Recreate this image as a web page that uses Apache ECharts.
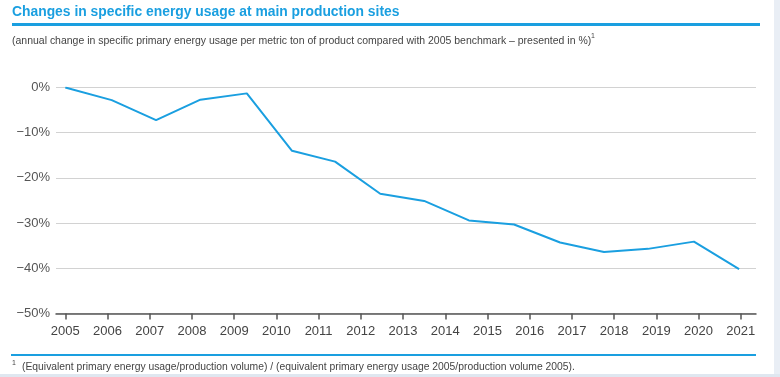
<!DOCTYPE html>
<html>
<head>
<meta charset="utf-8">
<script src="https://cdn.jsdelivr.net/npm/echarts@6/dist/echarts.min.js"></script>
<style>
  html, body { margin: 0; padding: 0; background: #fff; }
  #chart { width: 780px; height: 377px; }
</style>
</head>
<body>
<div id="chart"></div>
<script>
// year positions of the drawn points (they drift a little against the year ticks)
let pointYears = [2005.0, 2006.1, 2007.15, 2008.2, 2009.3, 2010.37, 2011.39, 2012.46,
  2013.5, 2014.56, 2015.63, 2016.72, 2017.76, 2018.8, 2019.89, 2020.96];
// change vs 2005 in %
let changeValues = [0, -2.8, -7.2, -2.7, -1.3, -14.0, -16.4, -23.5,
  -25.1, -29.4, -30.3, -34.3, -36.4, -35.7, -34.1, -40.2];
// x axis tick labels
let yearTicks = [2005, 2006, 2007, 2008, 2009, 2010, 2011, 2012, 2013,
  2014, 2015, 2016, 2017, 2018, 2019, 2020, 2021];

let blue = '#1a9fe0';
let font = '"Liberation Sans", Arial, sans-serif';

let chart = echarts.init(document.getElementById('chart'));

let seriesData = [];
for (let i = 0; i < pointYears.length; i++) {
  seriesData.push([pointYears[i], changeValues[i]]);
}

let option = {
  backgroundColor: '#fff',
  animation: false,
  grid: {
    left: 56,
    right: 24,
    top: 87.5,
    bottom: 63.5
  },
  xAxis: {
    type: 'value',
    min: 2004.78,
    max: 2021.36,
    axisLine: { show: true, onZero: false, lineStyle: { color: '#555', width: 1.5 } },
    axisTick: {
      show: true,
      customValues: yearTicks,
      length: 6,
      inside: false,
      lineStyle: { color: '#555', width: 1.5 }
    },
    axisLabel: {
      customValues: yearTicks,
      margin: 11,
      fontFamily: font,
      fontSize: 13,
      color: '#444',
      formatter: function (v) { return String(v); }
    },
    splitLine: { show: false }
  },
  yAxis: {
    type: 'value',
    min: -50,
    max: 0,
    interval: 10,
    axisLine: { show: false },
    axisTick: { show: false },
    axisLabel: {
      margin: 6,
      fontFamily: font,
      fontSize: 13,
      color: '#555',
      formatter: function (v) {
        return v === 0 ? '0%' : '\u2212' + Math.abs(v) + '%';
      }
    },
    splitLine: { show: true, lineStyle: { color: '#d2d2d2', width: 1.2 } }
  },
  series: [
    {
      type: 'line',
      data: seriesData,
      showSymbol: false,
      lineStyle: { color: blue, width: 2 },
      z: 5
    }
  ],
  graphic: [
    {
      type: 'text',
      x: 12,
      y: 5,
      scaleX: 0.99,
      style: {
        text: 'Changes in specific energy usage at main production sites',
        fontFamily: font,
        fontWeight: 'bold',
        fontSize: 14,
        fill: blue,
        verticalAlign: 'top'
      }
    },
    {
      type: 'rect',
      shape: { x: 12, y: 23, width: 748, height: 3 },
      style: { fill: blue }
    },
    {
      type: 'text',
      x: 12,
      y: 35,
      scaleX: 0.953,
      style: {
        text: '(annual change in specific primary energy usage per metric ton of product compared with 2005 benchmark \u2013 presented in %)',
        fontFamily: font,
        fontSize: 11,
        fill: '#444',
        verticalAlign: 'top'
      }
    },
    {
      type: 'text',
      x: 591,
      y: 33,
      style: { text: '1', fontFamily: font, fontSize: 7, fill: '#444', verticalAlign: 'top' }
    },
    {
      type: 'rect',
      shape: { x: 11, y: 354, width: 745, height: 2 },
      style: { fill: blue }
    },
    {
      type: 'text',
      x: 12,
      y: 360,
      style: { text: '1', fontFamily: font, fontSize: 7, fill: '#444', verticalAlign: 'top' }
    },
    {
      type: 'text',
      x: 22,
      y: 361,
      scaleX: 0.94,
      style: {
        text: '(Equivalent primary energy usage/production volume) / (equivalent primary energy usage 2005/production volume 2005).',
        fontFamily: font,
        fontSize: 11,
        fill: '#444',
        verticalAlign: 'top'
      }
    },
    {
      type: 'rect',
      shape: { x: 774, y: 0, width: 6, height: 377 },
      style: { fill: '#e9eef5' }
    },
    {
      type: 'rect',
      shape: { x: 0, y: 374, width: 780, height: 3 },
      style: { fill: '#dfe7f0' }
    }
  ]
};

chart.setOption(option);
</script>
</body>
</html>
